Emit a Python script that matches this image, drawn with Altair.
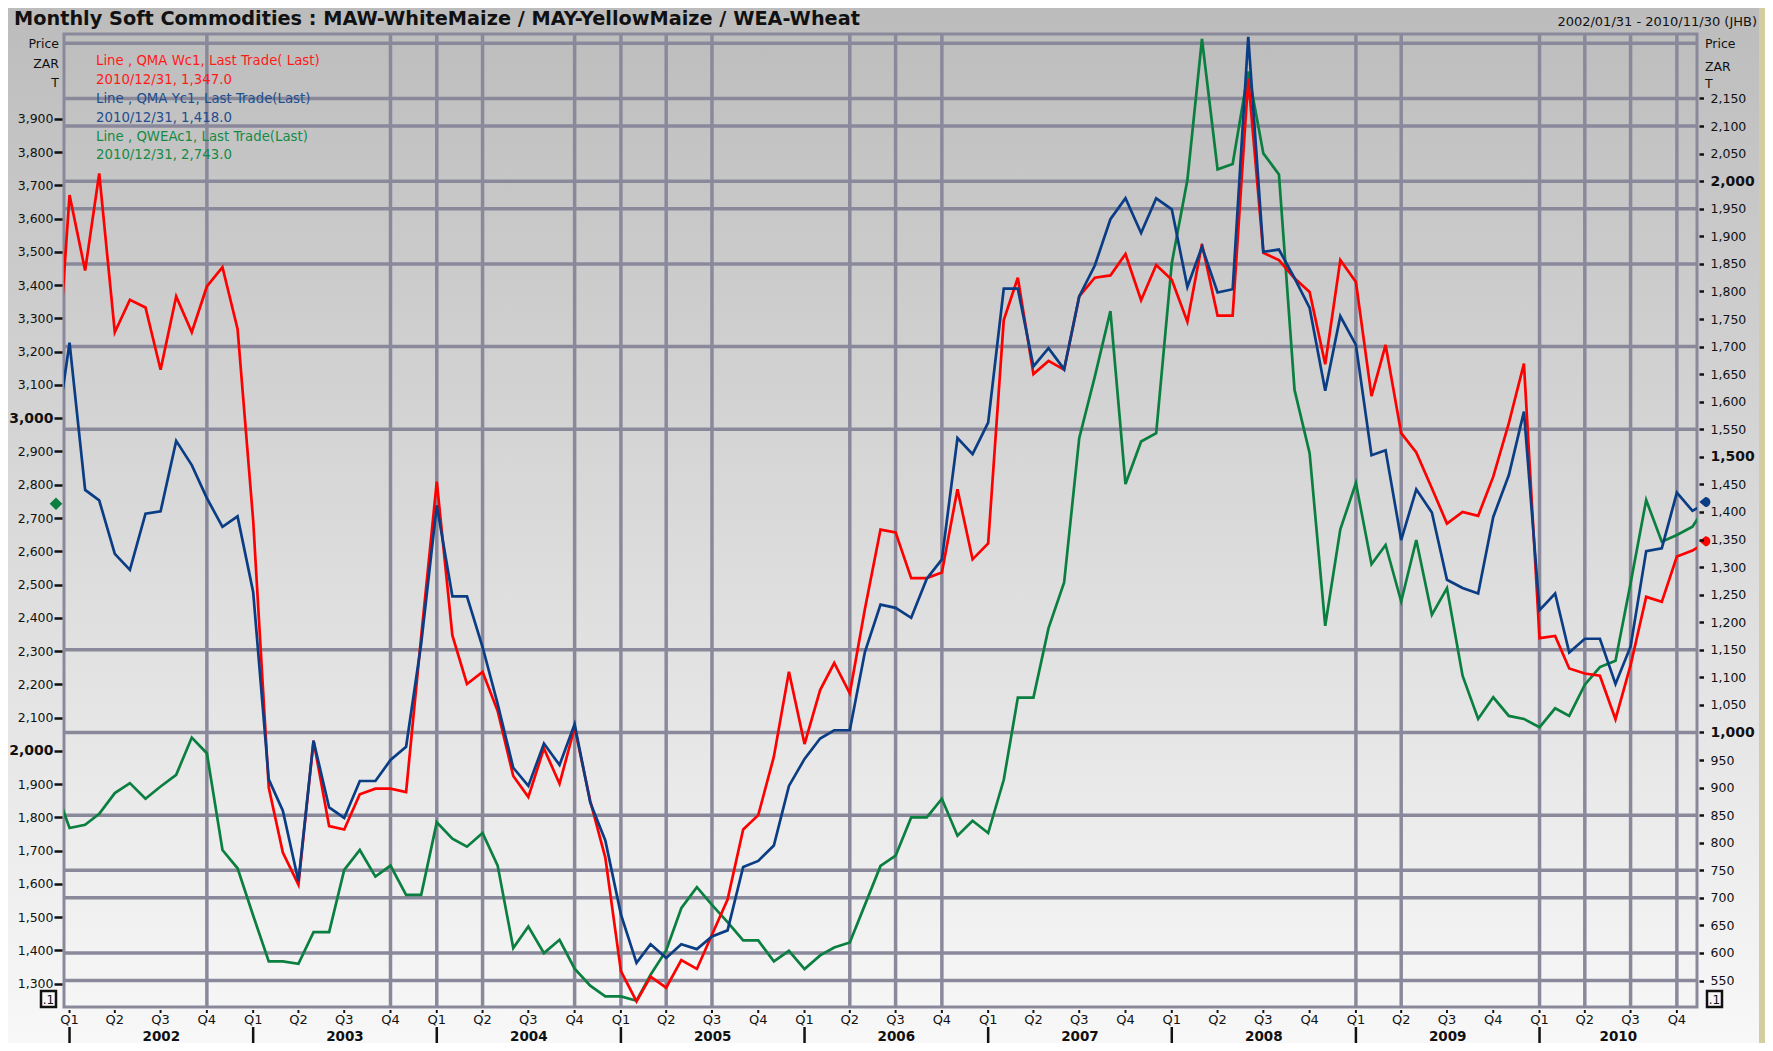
import altair as alt
import pandas as pd

# ---------------- data (monthly points, Dec 2001 .. Dec 2010) ----------------
first_month = "2001-12-01"

# QMA Wc1 - white maize (red, right axis)
white_maize = [1560, 1975, 1838, 2014, 1726, 1785, 1771, 1658, 1791, 1726, 1809, 1844, 1732,
               1385, 900, 782, 724, 985, 830, 824, 888, 898, 898, 892, 1174,
               1455, 1176, 1088, 1110, 1039, 921, 883, 971, 907, 1009, 876, 773,
               567, 512, 557, 537, 587, 571, 633, 697, 824, 850, 956, 1110,
               979, 1077, 1126, 1071, 1224, 1368, 1363, 1280, 1280, 1290, 1441, 1314,
               1343, 1748, 1825, 1650, 1674, 1658, 1791, 1825, 1829, 1868, 1784, 1848,
               1821, 1745, 1886, 1756, 1756, 2186, 1870, 1857, 1824, 1799, 1668, 1857,
               1817, 1610, 1703, 1543, 1508, 1443, 1379, 1400, 1393, 1464, 1561, 1669,
               1171, 1175, 1116, 1107, 1103, 1024, 1122, 1246, 1237, 1319, 1330, 1347]

# QMA Yc1 - yellow maize (blue, right axis)
yellow_maize = [1510, 1707, 1440, 1421, 1324, 1295, 1397, 1401, 1529, 1485, 1425, 1373, 1392,
                1255, 915, 858, 730, 985, 864, 845, 912, 912, 950, 974, 1161,
                1412, 1247, 1247, 1155, 1052, 936, 903, 980, 941, 1015, 873, 804,
                670, 582, 616, 591, 616, 607, 630, 641, 756, 767, 795, 903,
                952, 989, 1004, 1004, 1146, 1232, 1226, 1208, 1279, 1314, 1534, 1505,
                1562, 1805, 1805, 1664, 1697, 1659, 1791, 1847, 1931, 1969, 1906, 1969,
                1949, 1808, 1881, 1798, 1804, 2262, 1872, 1876, 1824, 1770, 1620, 1755,
                1703, 1503, 1512, 1349, 1441, 1399, 1277, 1262, 1252, 1391, 1467, 1582,
                1222, 1252, 1145, 1170, 1170, 1088, 1156, 1329, 1334, 1435, 1402, 1418]

# QWEAc1 - wheat (green, left axis)
wheat = [1900, 1768, 1778, 1811, 1873, 1903, 1856, 1893, 1928, 2040, 1993, 1702, 1647,
         1505, 1367, 1367, 1360, 1455, 1455, 1642, 1702, 1622, 1655, 1567, 1567,
         1785, 1736, 1712, 1753, 1655, 1407, 1472, 1392, 1432, 1345, 1294, 1262,
         1262, 1249, 1327, 1400, 1527, 1590, 1537, 1485, 1430, 1430, 1367, 1399,
         1344, 1385, 1409, 1424, 1537, 1654, 1685, 1800, 1800, 1856, 1745, 1790,
         1753, 1913, 2160, 2160, 2369, 2506, 2940, 3125, 3322, 2802, 2930, 2955,
         3466, 3716, 4140, 3748, 3764, 4042, 3796, 3733, 3085, 2895, 2376, 2666,
         2805, 2561, 2619, 2449, 2634, 2409, 2489, 2226, 2096, 2161, 2105, 2096,
         2071, 2128, 2105, 2199, 2252, 2271, 2504, 2754, 2629, 2649, 2674, 2743]

title_text = "Monthly Soft Commodities : MAW-WhiteMaize / MAY-YellowMaize / WEA-Wheat"
range_text = "2002/01/31 - 2010/11/30 (JHB)"
legend_names = ["Line , QMA Wc1,  Last Trade( Last)",
                "Line , QMA Yc1, Last Trade(Last)",
                "Line , QWEAc1, Last Trade(Last)"]
legend_date = "2010/12/31"
axis_title_lines = ["Price", "ZAR", "T"]

years = list(range(2002, 2011))
quarter_months = [1, 4, 7, 10]
left_ticks = list(range(1300, 4000, 100))
right_ticks = list(range(550, 2200, 50))
right_grid = [2250, 2150, 2100, 2000, 1950, 1850, 1700, 1550, 1150, 1000, 850, 750, 700, 600, 550]
grid_quarters = ["2002-10-01", "2003-10-01", "2004-01-01", "2004-04-01", "2004-10-01",
                 "2005-01-01", "2005-04-01", "2005-07-01", "2006-04-01", "2006-07-01",
                 "2006-10-01", "2009-01-01", "2009-04-01", "2010-01-01", "2010-04-01",
                 "2010-07-01", "2010-10-01"]
x_start, x_end = "2001-12-21", "2010-11-10"
left_domain = [1230, 4155]
right_domain = [502, 2267]

# ---------------- styling ----------------
FONT = "DejaVu Sans"
RED, BLUE, GREEN = "#ff0000", "#0b3d84", "#0a7f3f"
RED_T, BLUE_T, GREEN_T = "#ff1a1a", "#1d4e8f", "#148a46"
GRID = "#8a899b"
KHAKI = "#d4cda0"
INK = "#111111"
W, H = 1633, 973


def ms(s):
    return int(pd.Timestamp(s).value // 10**6)


months = pd.date_range(first_month, periods=len(white_maize), freq="MS")
df = pd.DataFrame({
    "date": [d.strftime("%Y-%m-%d") for d in months],
    "wm": white_maize, "ym": yellow_maize, "wh": wheat,
})
last = {"wm": white_maize[-1], "ym": yellow_maize[-1], "wh": wheat[-1]}

xs = alt.Scale(domain=[ms(x_start), ms(x_end)])
yR = alt.Scale(domain=right_domain, nice=False, zero=False)
yL = alt.Scale(domain=left_domain, nice=False, zero=False)

bold_left = "datum.value % 1000 === 0"
bold_right = "datum.value % 500 === 0"

left_axis = alt.Axis(
    orient="left", values=left_ticks, format=",d", title=None, domain=False, grid=False,
    offset=2, tickSize=8, tickWidth=2.5, tickColor=INK, labelPadding=1, zindex=2,
    labelFont=FONT, labelColor=INK, labelFlush=False, labelOverlap=False,
    labelFontSize={"condition": {"test": bold_left, "value": 14}, "value": 12.5},
    labelFontWeight={"condition": {"test": bold_left, "value": "bold"}, "value": "normal"},
)
right_axis = alt.Axis(
    orient="right", values=right_ticks, format=",d", title=None, domain=False, grid=False,
    offset=2, tickSize=4.5, tickWidth=2.5, tickColor=INK, labelPadding=6.5, zindex=2,
    labelFont=FONT, labelColor=INK, labelFlush=False, labelOverlap=False,
    labelFontSize={"condition": {"test": bold_right, "value": 14}, "value": 12.5},
    labelFontWeight={"condition": {"test": bold_right, "value": "bold"}, "value": "normal"},
)

one = alt.Data(values=[{"t": ""}])

# background panel with vertical gradient
bg = alt.Chart(one).mark_rect(
    fill={"gradient": "linear", "x1": 0, "y1": 0, "x2": 0, "y2": 1,
          "stops": [{"offset": 0, "color": "#bcbcbc"}, {"offset": 1, "color": "#f8f8f8"}]}
).encode(x=alt.value(-56), x2=alt.value(W + 62), y=alt.value(-26), y2=alt.value(H + 36))

vgrid = alt.Chart(pd.DataFrame({"d": grid_quarters})).mark_rule(
    color=GRID, strokeWidth=3.5).encode(x=alt.X("d:T", scale=xs, axis=None))
hgrid = alt.Chart(pd.DataFrame({"v": right_grid})).mark_rule(
    color=GRID, strokeWidth=3.5).encode(y=alt.Y("v:Q", scale=yR, axis=None))
frame = alt.Chart(one).mark_rect(filled=False, color=GRID, strokeWidth=3).encode(
    x=alt.value(0), x2=alt.value(W), y=alt.value(0), y2=alt.value(H))

green = alt.Chart(df).mark_line(color=GREEN, strokeWidth=2.7, clip=True).encode(
    x=alt.X("date:T", scale=xs, axis=None), y=alt.Y("wh:Q", scale=yL, axis=left_axis))
red = alt.Chart(df).mark_line(color=RED, strokeWidth=2.7, clip=True).encode(
    x=alt.X("date:T", scale=xs, axis=None), y=alt.Y("wm:Q", scale=yR, axis=right_axis))
blue = alt.Chart(df).mark_line(color=BLUE, strokeWidth=2.7, clip=True).encode(
    x=alt.X("date:T", scale=xs, axis=None), y=alt.Y("ym:Q", scale=yR, axis=None))

last_df = pd.DataFrame([last])
tag_shape = "M-1,0L-0.1,-0.75A0.75,0.75,0,1,1,-0.1,0.75Z"
red_tag = alt.Chart(last_df).mark_point(shape=tag_shape, filled=True, size=180, opacity=1,
                                        color=RED).encode(
    x=alt.value(W + 9), y=alt.Y("wm:Q", scale=yR, axis=None))
blue_tag = alt.Chart(last_df).mark_point(shape=tag_shape, filled=True, size=180, opacity=1,
                                         color=BLUE).encode(
    x=alt.value(W + 9), y=alt.Y("ym:Q", scale=yR, axis=None))
green_tag = alt.Chart(last_df).mark_point(shape="diamond", filled=True, size=160, opacity=1,
                                          color=GREEN).encode(
    x=alt.value(-8), y=alt.Y("wh:Q", scale=yL, axis=None))

# quarter row (Q1..Q4) below the plot
q_df = pd.DataFrame({
    "d": [ms(f"{y}-{m:02d}-01") for y in years for m in quarter_months],
    "q": [f"Q{(m - 1) // 3 + 1}" for y in years for m in quarter_months],
})
q_ticks = alt.Chart(q_df).mark_rule(color=INK, strokeWidth=2).encode(
    x=alt.X("d:T", scale=xs, axis=None), y=alt.value(H + 3), y2=alt.value(H + 6))
q_labels = alt.Chart(q_df).mark_text(font=FONT, fontSize=13, color=INK,
                                     baseline="middle").encode(
    x=alt.X("d:T", scale=xs, axis=None), y=alt.value(H + 13), text="q:N")

# year row under the quarter labels
d0, d1 = pd.Timestamp(x_start), pd.Timestamp(x_end)
year_mid = []
for y in years:
    a = max(pd.Timestamp(f"{y}-01-01"), d0)
    b = min(pd.Timestamp(f"{y + 1}-01-01"), d1)
    year_mid.append(int((a.value + (b.value - a.value) / 2) // 10**6))
year_df = pd.DataFrame({"year": [str(y) for y in years], "mid": year_mid,
                        "start": [ms(f"{y}-01-01") for y in years]})
year_ticks = alt.Chart(year_df).mark_rule(color=INK, strokeWidth=2.5).encode(
    x=alt.X("start:T", scale=xs, axis=None), y=alt.value(H + 20), y2=alt.value(H + 36))
year_labels = alt.Chart(year_df).mark_text(font=FONT, fontSize=13.5, fontWeight="bold",
                                           color=INK, baseline="middle").encode(
    x=alt.X("mid:T", scale=xs, axis=None), y=alt.value(H + 29.5), text="year:N")


def txt(s, x, y, size, color=INK, weight="normal", align="left", baseline="alphabetic"):
    return alt.Chart(alt.Data(values=[{"t": s}])).mark_text(
        font=FONT, fontSize=size, color=color, fontWeight=weight, align=align,
        baseline=baseline).encode(x=alt.value(x), y=alt.value(y), text="t:N")


texts = [
    txt(title_text, -50, -9, 19.3, weight="bold"),
    txt(range_text, W + 60, -8, 13, align="right"),
]
for line, yl, yr in zip(axis_title_lines, [14, 34, 53], [14, 37, 54]):
    texts.append(txt(line, -5, yl, 12.5, align="right"))
    texts.append(txt(line, W + 8, yr, 12.5))

legend_vals = [last["wm"], last["ym"], last["wh"]]
legend_cols = [RED_T, BLUE_T, GREEN_T]
legend_y = [31, 49.5, 69, 87.5, 106.5, 124.5]
for k in range(3):
    texts.append(txt(legend_names[k], 32, legend_y[2 * k], 13.3, color=legend_cols[k]))
    texts.append(txt(f"{legend_date}, {legend_vals[k]:,.1f}", 32, legend_y[2 * k + 1], 13.3,
                     color=legend_cols[k]))

# small ".1" scale boxes in the corners
boxes = []
for bx in (-23, W + 10):
    boxes.append(alt.Chart(one).mark_rect(fill="#f6f6f6", stroke=INK, strokeWidth=2.5).encode(
        x=alt.value(bx), x2=alt.value(bx + 15), y=alt.value(H - 16), y2=alt.value(H)))
    boxes.append(txt(".1", bx + 7.5, H - 3.5, 12, align="center"))

chart = alt.layer(
    bg, vgrid, hgrid, frame, q_ticks, q_labels, year_ticks, year_labels, *texts, *boxes,
    green, red, blue, red_tag, blue_tag, green_tag,
).resolve_scale(y="independent").properties(
    width=W, height=H,
    padding={"left": 56, "top": 26, "right": 68, "bottom": 36},
    autosize=alt.AutoSizeParams(type="none"),
    background=KHAKI,
).configure_view(stroke=None)

chart.save("out.html", embed_options={"renderer": "svg", "actions": False})
